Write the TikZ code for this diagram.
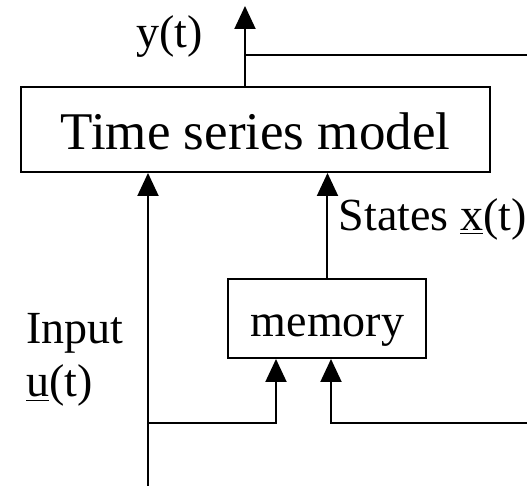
\documentclass[tikz,border=0pt]{standalone}
\usepackage{fontspec}
\setmainfont{Liberation Serif}
\usetikzlibrary{arrows.meta}
\tikzset{
	bigbox/.style={rectangle, draw, line width=1pt, inner sep=0pt, minimum width=234.5pt, minimum height=42.5pt, text height=20.5pt, text depth=0pt, font=\fontsize{26.5}{30}\selectfont},
	smallbox/.style={rectangle, draw, line width=1pt, inner sep=0pt, minimum width=99pt, minimum height=39.5pt, text height=18.5pt, text depth=0pt, font=\fontsize{23}{26.5}\selectfont},
	lbl/.style={inner sep=0pt, font=\fontsize{23}{26.5}\selectfont}
}

\begin{document}
\begin{tikzpicture}[x=0.5pt, y=-0.5pt, >={Triangle[width=10.5pt,length=11.5pt]}, line width=1pt]
	\useasboundingbox (0,0) rectangle (527,486);
	
	\node[bigbox] at (255.5,129.5) (tsm) {Time series model};
	\node[smallbox] at (327.5,318.5) (mem) {memory};
	
	\coordinate (ytip) at (245,6);
	\coordinate (fb) at (245,55);
	\coordinate (fbend) at (535,55);
	\coordinate (uin) at (148,495);
	\coordinate (ubr) at (148,423);
	\coordinate (memin1) at (276,423);
	\coordinate (memin2) at (331,423);
	\coordinate (fbin) at (535,423);
	
	\draw[->] (tsm.north -| ytip) -- (ytip); 
	\draw (fb) -- (fbend); 
	\draw[->] (uin) -- (uin |- tsm.south); 
	\draw[->] (ubr) -- (memin1) -- (memin1 |- mem.south); 
	\draw[->] (fbin) -- (memin2) -- (memin2 |- mem.south); 
	\draw[->] (mem.north) -- (mem.north |- tsm.south); 
	
	\node[lbl, anchor=base] at (169.5,48) (ylab) {y(t)};
	\node[lbl, anchor=base west] at (338,231) (xlab) {States \underline{x}(t)};
	\node[lbl, anchor=base west, align=left] at (25,397) (ulab) {Input\\\underline{u}(t)};
\end{tikzpicture}
\end{document}
